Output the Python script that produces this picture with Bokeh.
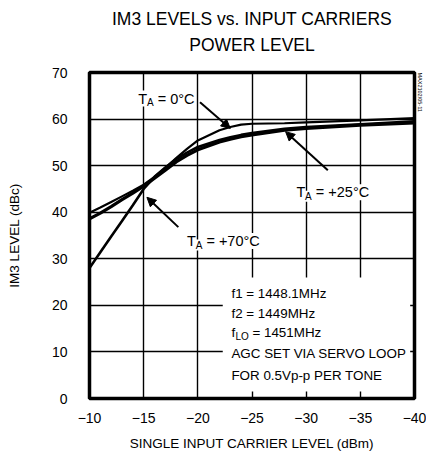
from bokeh.plotting import figure
from bokeh.models import (Range1d, FixedTicker, Label, Arrow, NormalHead, BoxAnnotation, Title,
                          LinearAxis)
from bokeh.embed import file_html
from bokeh.resources import INLINE

# ---------------- data ----------------
title_lines = ["IM3 LEVELS vs. INPUT CARRIERS", "POWER LEVEL"]
x_title = "SINGLE INPUT CARRIER LEVEL (dBm)"
y_title = "IM3 LEVEL (dBc)"
x_ticks = [-10, -15, -20, -25, -30, -35, -40]
y_ticks = [0, 10, 20, 30, 40, 50, 60, 70]

input_dbm = [-10, -11, -12, -13, -14, -15, -16, -17, -18, -19, -20, -22, -23, -24, -25, -28, -30, -35, -40]
im3_0c = [39.9, 41.0, 42.2, 43.4, 44.6, 45.9, 47.6, 49.5, 51.6, 53.6, 55.4, 57.6, 58.3, 58.8, 59.0, 59.1, 59.3, 59.7, 60.2]
im3_25c = [38.6, 39.8, 41.2, 42.7, 44.1, 45.6, 47.3, 49.0, 50.8, 52.2, 53.4, 55.1, 55.7, 56.2, 56.6, 57.6, 58.0, 58.7, 59.2]
im3_70c = [28.0, 31.4, 34.8, 38.1, 41.5, 45.0, 47.6, 49.6, 51.4, 52.8, 54.0, 55.5, 56.1, 56.6, 57.0, 57.9, 58.3, 58.9, 59.5]

conditions = ["f1 = 1448.1MHz", "f2 = 1449MHz", None, "AGC SET VIA SERVO LOOP", "FOR 0.5Vp-p PER TONE"]
fig_id = "MAX2102/05-11"

FONT = "Liberation Sans"

p = figure(width=426, height=457, output_backend="svg", toolbar_location=None,
           x_range=Range1d(-10, -40), y_range=Range1d(0, 70),
           min_border_left=89, min_border_right=11, min_border_top=72, min_border_bottom=59)
p.background_fill_color = "white"
p.border_fill_color = "white"
p.outline_line_color = "black"
p.outline_line_width = 3.5
p.outline_line_alpha = 1


def plain_axis(ax):
    ax.axis_line_color = None
    ax.major_tick_line_color = None
    ax.minor_tick_line_color = None
    ax.major_tick_out = 0
    ax.major_tick_in = 0
    ax.minor_tick_out = 0
    ax.minor_tick_in = 0
    ax.major_label_text_font = FONT
    ax.major_label_text_color = "black"
    ax.axis_label_text_font = FONT
    ax.axis_label_text_font_style = "normal"
    ax.axis_label_text_color = "black"


for ax in (p.xaxis[0], p.yaxis[0]):
    plain_axis(ax)
    ax.major_label_text_font_size = "14px"
    ax.axis_label_text_font_size = "13.5px"

p.xaxis.ticker = FixedTicker(ticks=x_ticks)
p.yaxis.ticker = FixedTicker(ticks=y_ticks)
p.xaxis.axis_label = x_title
p.yaxis.axis_label = y_title
p.xaxis.major_label_standoff = 14
p.xaxis.axis_label_standoff = 10
p.yaxis.major_label_standoff = 22
p.yaxis.axis_label_standoff = 27

for g in (p.xgrid[0], p.ygrid[0]):
    g.grid_line_color = "black"
    g.grid_line_width = 1.4
    g.grid_line_alpha = 1
p.xgrid.ticker = FixedTicker(ticks=x_ticks)
p.ygrid.ticker = FixedTicker(ticks=y_ticks)

# curves
p.line(input_dbm, im3_0c, line_color="black", line_width=2.2)
p.line(input_dbm, im3_25c, line_color="black", line_width=3.2)
p.line(input_dbm, im3_70c, line_color="black", line_width=2.6)

# two-line title as labels of bare axes stacked above the frame
for txt, standoff in zip(reversed(title_lines), [18, 3]):
    tax = LinearAxis(axis_label=txt, ticker=FixedTicker(ticks=[]))
    plain_axis(tax)
    tax.major_label_text_font_size = "0px"
    tax.major_label_standoff = 0
    tax.axis_label_standoff = standoff
    tax.axis_label_text_font_size = "17.5px"
    p.add_layout(tax, "above")

# side id (vertical text at right, near the top)
p.add_layout(Title(text=fig_id, align="left", text_font=FONT, text_font_size="5.5px",
                   text_font_style="normal", text_color="black", standoff=4), "right")


def t_label(x, y, rest, size=14.5):
    sub = round(size * 0.7)
    p.add_layout(Label(x=x, y=y, text="T", text_font=FONT, text_font_size=f"{size}px",
                       text_baseline="alphabetic", background_fill_color="white", text_color="black"))
    p.add_layout(Label(x=x, y=y, x_offset=size * 0.6, y_offset=-4, text="A", text_font=FONT,
                       text_font_size=f"{sub}px", text_baseline="alphabetic",
                       background_fill_color="white", text_color="black"))
    p.add_layout(Label(x=x, y=y, x_offset=size * 0.6 + sub * 0.67 + 4, text=rest, text_font=FONT,
                       text_font_size=f"{size}px", text_baseline="alphabetic",
                       background_fill_color="white", text_color="black"))


t_label(-14.5, 64.4, "= 0°C")
t_label(-29.1, 44.3, "= +25°C")
t_label(-19.0, 33.8, "= +70°C")

# arrows
head = dict(size=9, fill_color="black", line_color="black")
p.add_layout(Arrow(end=NormalHead(**head), x_start=-20.2, y_start=63.6, x_end=-23.0, y_end=58.0,
                   line_width=2, line_color="black"))
p.add_layout(Arrow(end=NormalHead(**head), x_start=-32.0, y_start=49.0, x_end=-28.1, y_end=57.3,
                   line_width=2, line_color="black"))
p.add_layout(Arrow(end=NormalHead(**head), x_start=-18.2, y_start=36.8, x_end=-15.3, y_end=43.2,
                   line_width=2, line_color="black"))

# conditions box
p.add_layout(BoxAnnotation(left=-22.3, right=-39.6, bottom=1.5, top=26.0,
                           fill_color="white", fill_alpha=1, line_color=None))
ys = [22.5, 18.25, 14.2, 9.7, 4.9]
CSIZE = "13.4px"
for txt, yy in zip(conditions, ys):
    if txt is None:
        continue
    p.add_layout(Label(x=-23.1, y=yy, text=txt, text_font=FONT, text_font_size=CSIZE,
                       text_baseline="middle", text_color="black"))
# f_LO line
p.add_layout(Label(x=-23.1, y=ys[2], text="f", text_font=FONT, text_font_size=CSIZE,
                   text_baseline="middle", text_color="black"))
p.add_layout(Label(x=-23.1, y=ys[2], x_offset=4, y_offset=-4, text="LO", text_font=FONT,
                   text_font_size="10px", text_baseline="middle", text_color="black"))
p.add_layout(Label(x=-23.1, y=ys[2], x_offset=21, text="= 1451MHz", text_font=FONT,
                   text_font_size=CSIZE, text_baseline="middle", text_color="black"))

open("out.html", "w").write(file_html(p, INLINE))
